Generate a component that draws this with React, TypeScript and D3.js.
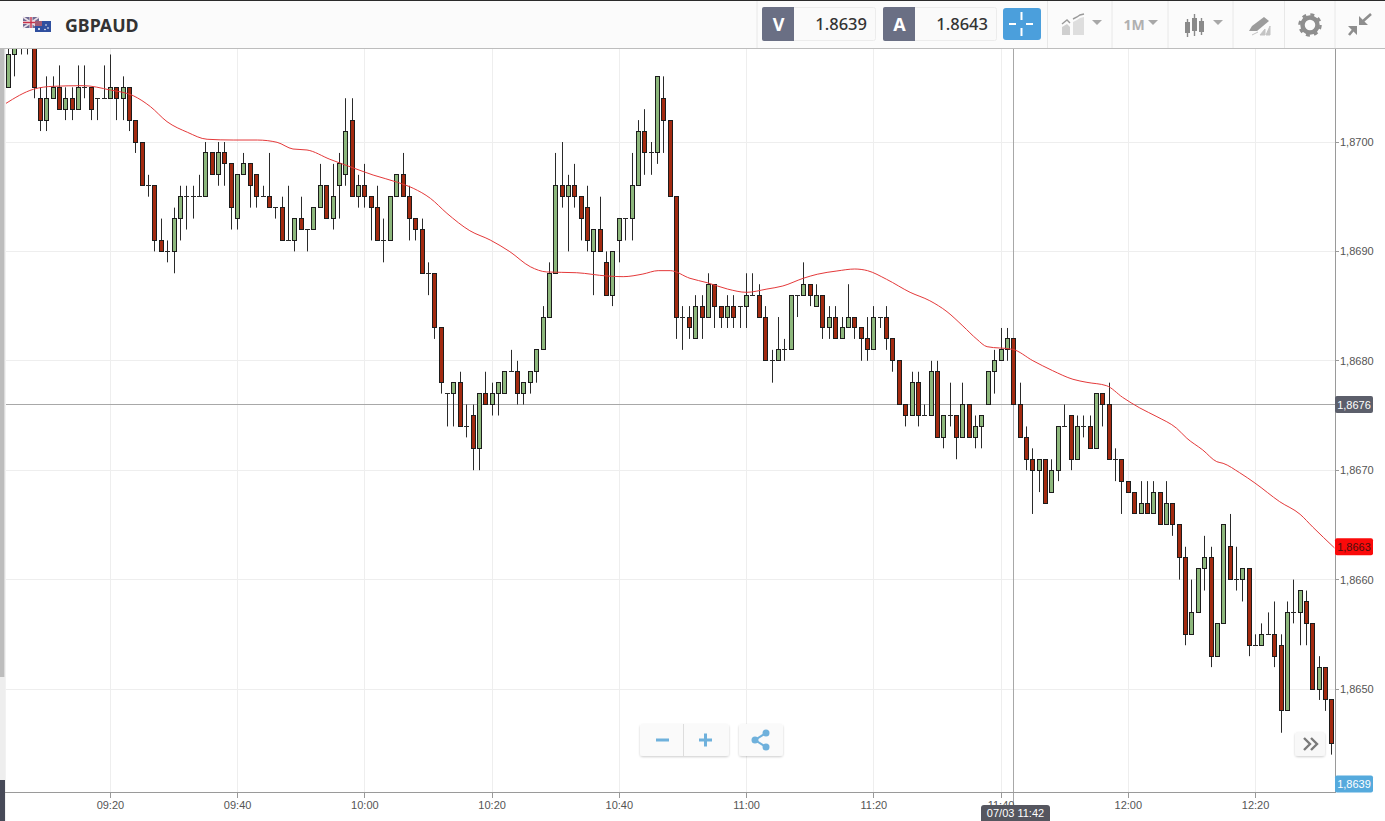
import React from "react";
import * as d3 from "d3";

// prices are expressed as the last four digits of 1.xxxx (8700 = 1.8700); one candle per minute from 09:04
const opens = [
8705,8708,8710,8710,8710,8704,8702,8704,8705,8703,
8704,8703,8705,8705,8704,8704,8704,8705,8704,8705,
8702,8700,8696,8696,8691,8690,8690,8693,8695,8695,
8695,8695,8699,8697,8699,8698,8693,8697,8698,8697,
8695,8695,8694,8694,8691,8691,8693,8692,8692,8694,
8696,8693,8696,8697,8702,8695,8696,8695,8694,8691,
8691,8695,8697,8695,8693,8692,8688,8688,8683,8677,
8677,8678,8674,8675,8672,8677,8676,8677,8677,8679,
8679,8677,8678,8679,8681,8684,8688,8696,8695,8696,
8695,8694,8690,8692,8689,8686,8691,8693,8693,8696,
8701,8699,8699,8704,8702,8695,8684,8684,8682,8685,
8684,8687,8685,8684,8685,8685,8685,8686,8686,8684,
8680,8680,8681,8681,8686,8686,8687,8685,8686,8683,
8684,8682,8683,8684,8683,8682,8681,8684,8684,8682,
8680,8676,8675,8678,8675,8675,8679,8673,8675,8675,
8673,8676,8673,8674,8676,8679,8680,8681,8682,8676,
8673,8671,8670,8671,8668,8670,8674,8675,8671,8674,
8674,8672,8677,8676,8671,8671,8669,8668,8666,8667,
8666,8668,8665,8667,8665,8662,8655,8657,8661,8662,
8653,8656,8663,8660,8660,8661,8654,8654,8655,8655,
8654,8648,8657,8657,8658,8656,8650,8652,8649];
const closes = [
8708,8709,8710,8710,8705,8702,8704,8705,8703,8704,
8703,8705,8705,8703,8704,8704,8705,8704,8705,8702,
8700,8696,8696,8691,8690,8690,8693,8695,8695,8695,
8695,8699,8697,8699,8698,8694,8697,8698,8696,8695,
8695,8694,8694,8691,8691,8693,8692,8692,8694,8696,
8693,8695,8698,8701,8695,8696,8695,8694,8691,8691,
8695,8697,8695,8693,8692,8688,8688,8683,8678,8677,
8678,8674,8674,8672,8677,8676,8677,8678,8679,8679,
8677,8678,8679,8681,8684,8688,8696,8695,8696,8695,
8693,8691,8692,8690,8686,8690,8693,8693,8696,8701,
8699,8699,8706,8702,8695,8684,8684,8683,8685,8684,
8687,8685,8684,8685,8684,8685,8686,8686,8684,8680,
8680,8681,8681,8686,8686,8687,8686,8686,8683,8684,
8682,8683,8684,8683,8682,8681,8684,8684,8682,8680,
8676,8675,8678,8675,8675,8679,8673,8675,8675,8673,
8676,8673,8674,8675,8679,8680,8681,8682,8676,8673,
8671,8670,8671,8667,8670,8674,8674,8671,8674,8674,
8672,8677,8676,8671,8671,8669,8668,8666,8667,8666,
8668,8665,8667,8665,8662,8655,8657,8661,8662,8653,
8656,8665,8660,8660,8661,8654,8654,8655,8655,8653,
8648,8657,8657,8659,8656,8650,8652,8649,8645];
const highs = [
8709,8710,8711,8711,8711,8705,8706,8706,8707,8705,
8705,8707,8707,8705,8704,8707,8708,8705,8706,8705,
8702,8700,8697,8696,8693,8691,8694,8696,8696,8696,
8697,8700,8699,8700,8700,8698,8697,8699,8698,8697,
8696,8699,8694,8695,8696,8693,8695,8692,8694,8698,
8696,8698,8699,8704,8704,8697,8698,8695,8696,8693,
8695,8697,8699,8696,8693,8693,8689,8688,8683,8677,
8678,8679,8676,8676,8677,8679,8678,8678,8679,8681,
8680,8678,8679,8681,8685,8689,8699,8700,8697,8698,
8695,8696,8692,8695,8690,8690,8693,8693,8699,8702,
8703,8700,8706,8706,8702,8695,8685,8685,8686,8686,
8688,8687,8685,8686,8686,8685,8688,8688,8687,8685,
8681,8684,8682,8686,8686,8689,8687,8687,8686,8685,
8685,8684,8687,8684,8683,8684,8685,8684,8685,8682,
8680,8676,8679,8679,8676,8680,8680,8675,8678,8675,
8678,8676,8675,8675,8679,8681,8683,8683,8682,8678,
8674,8672,8671,8671,8671,8674,8676,8675,8675,8675,
8675,8677,8677,8678,8672,8671,8669,8668,8669,8669,
8669,8668,8669,8667,8665,8663,8660,8661,8664,8663,
8656,8665,8666,8663,8661,8661,8655,8656,8657,8658,
8655,8658,8660,8659,8659,8656,8653,8652,8649];
const lows = [
8705,8706,8708,8708,8704,8701,8701,8704,8703,8702,
8702,8703,8704,8702,8702,8704,8704,8702,8702,8701,
8699,8696,8695,8690,8690,8689,8688,8691,8692,8693,
8695,8695,8697,8696,8696,8692,8692,8697,8694,8694,
8695,8694,8693,8691,8691,8690,8692,8690,8692,8694,
8693,8692,8693,8696,8695,8694,8694,8691,8691,8689,
8691,8695,8695,8691,8691,8688,8686,8682,8677,8674,
8674,8674,8673,8670,8670,8676,8675,8675,8677,8679,
8676,8676,8677,8678,8681,8684,8688,8694,8690,8694,
8691,8690,8686,8690,8686,8685,8689,8691,8691,8696,
8697,8697,8698,8699,8695,8682,8681,8682,8682,8682,
8684,8683,8683,8683,8683,8683,8683,8686,8684,8680,
8678,8680,8680,8681,8684,8686,8685,8685,8682,8682,
8682,8682,8683,8682,8680,8680,8681,8683,8681,8679,
8676,8674,8675,8674,8675,8675,8673,8672,8674,8671,
8673,8673,8672,8672,8676,8677,8680,8680,8676,8673,
8670,8666,8668,8667,8668,8669,8674,8670,8671,8673,
8672,8672,8674,8671,8669,8666,8668,8666,8666,8666,
8666,8665,8665,8664,8660,8654,8655,8657,8659,8652,
8653,8656,8660,8659,8658,8653,8654,8654,8655,8652,
8646,8648,8656,8654,8654,8650,8649,8648,8644];

// moving average: minute index and price
const maMinute = [-0.5,3.9,7,11.7,16,19.6,22.3,24.9,28.1,31.2,35.3,39.1,42.2,44.7,46.9,50.5,54.1,57.3,61.1,63.6,66.3,68.9,72.5,75.7,78.8,82,84.6,89.3,94.1,96.6,99.7,102.1,104,107.1,109.8,113,116,119.2,121.7,124.9,127.1,130.2,133,135,138,141.7,144.8,147.5,150,152.2,153.8,157.8,161,164.1,167.3,169.5,172.6,175.1,177.8,180.5,183.6,185.2,187.7,189.9,190.9,193.5,195.9,199.8,203,205,208.4];
const maPrice = [8703.5,8704.82,8705.09,8705.15,8704.75,8704.23,8703.23,8701.86,8700.89,8700.25,8700.18,8700.18,8699.97,8699.36,8699.27,8698.42,8697.65,8696.98,8696.32,8695.77,8694.85,8693.48,8691.89,8691.04,8689.97,8688.6,8688.12,8688.05,8687.75,8687.69,8687.93,8688.24,8688.24,8687.54,8687.14,8686.56,8686.26,8686.56,8686.84,8687.54,8687.91,8688.21,8688.39,8688.24,8687.45,8686.26,8685.49,8684.49,8683.18,8681.97,8681.29,8681.05,8680.01,8679.1,8678.31,8678.03,8677.72,8676.66,8675.69,8674.89,8673.83,8672.92,8671.85,8670.78,8670.63,8669.77,8668.83,8667.12,8665.97,8664.8,8662.9];

const priceTicks = [8700, 8690, 8680, 8670, 8660, 8650];
const priceLabels = ["1,8700", "1,8690", "1,8680", "1,8670", "1,8660", "1,8650"];
const timeTickMinutes = [16, 36, 56, 76, 96, 116, 136, 156, 176, 196];
const timeLabels = ["09:20", "09:40", "10:00", "10:20", "10:40", "11:00", "11:20", "11:40", "12:00", "12:20"];

const symbol = "GBPAUD";
const bidLabel = "V";
const bidValue = "1.8639";
const askLabel = "A";
const askValue = "1.8643";
const cursorPrice = 8676;
const cursorPriceLabel = "1,8676";
const cursorTimeLabel = "07/03 11:42";
const maLastPrice = 8663;
const maLastLabel = "1,8663";
const bidTagLabel = "1,8639";

const W = 1385, H = 821;
const plotRight = 1335, plotBottom = 793, plotTop = 48, plotLeft = 5;

const x = d3.scaleLinear().domain([0, 208]).range([8.6, 1331.9]);
const y = d3.scaleLinear().domain([8700, 8650]).range([142, 689]);
const maLine = d3.line<number>()
  .x((_, i) => x(maMinute[i]))
  .y((d) => y(d))
  .curve(d3.curveMonotoneX);

const UP = "#8db77c", DOWN = "#a32a10", EDGE = "#1c1c1c";
const GRID = "#eeeeee", AXIS = "#9a9a9a", TXT = "#555555";
const SANS = "'Liberation Sans', Arial, sans-serif";
const HEAD = "'Noto Sans', sans-serif";
const crisp = (v: number) => Math.floor(v) + 0.5;

function Candle({ i }: { i: number }) {
  const cx = crisp(x(i));
  const o = opens[i], c = closes[i];
  const top = crisp(y(Math.max(o, c)));
  const bot = crisp(y(Math.min(o, c)));
  return (
    <g>
      <line x1={cx} x2={cx} y1={y(highs[i])} y2={y(lows[i])} stroke="#2a2a2a" strokeWidth={1} />
      {o === c ? (
        <line x1={cx - 2.5} x2={cx + 2.5} y1={top} y2={top} stroke="#2a2a2a" strokeWidth={1} />
      ) : (
        <rect x={cx - 2} y={top} width={4} height={bot - top}
          fill={c > o ? UP : DOWN} stroke={EDGE} strokeWidth={1} />
      )}
    </g>
  );
}

function Tag({ cy, fill, color, text }: { cy: number; fill: string; color: string; text: string }) {
  return (
    <g>
      <rect x={1335} y={cy - 8.5} width={38} height={17} rx={2} fill={fill} />
      <text x={1354} y={cy + 4} textAnchor="middle" fontFamily={SANS} fontSize={11} fill={color}>{text}</text>
    </g>
  );
}

function Quote({ x0, label, value }: { x0: number; label: string; value: string }) {
  return (
    <g>
      <rect x={x0 + 0.5} y={7.5} width={113} height={33} rx={2} fill="#fafafa" stroke="#ececec" />
      <path d={`M${x0 + 2} 7h30v34h-30a2 2 0 0 1 -2 -2v-30a2 2 0 0 1 2 -2z`} fill="#6a6f84" />
      <text x={x0 + 16.5} y={31} textAnchor="middle" fontFamily={HEAD} fontWeight={700} fontSize={18} fill="#ffffff">{label}</text>
      <text x={x0 + 105} y={30} textAnchor="end" fontFamily={HEAD} fontWeight={500} fontSize={16.5} fill="#333333">{value}</text>
    </g>
  );
}

function Caret({ cx }: { cx: number }) {
  return <path d={`M${cx - 5} 20h10l-5 5z`} fill="#a8a8a8" />;
}

function Header() {
  const seps = [757, 1047.5, 1112, 1168, 1233, 1284.5, 1335];
  return (
    <g>
      <rect x={0} y={0} width={W} height={48} fill="#fbfbfb" />
      <rect x={0} y={0} width={W} height={1} fill="#2b2b2b" />
      <rect x={0} y={48} width={W} height={1} fill="#bdbdbd" />
      {seps.map((s) => <line key={s} x1={s} x2={s} y1={1} y2={48} stroke="#e8e8e8" />)}
      {/* flags */}
      <rect x={23} y={17} width={16} height={11} fill="#6f6a93" />
      <path d="M23 17l16 11M39 17l-16 11" stroke="#e9dfe6" strokeWidth={1.6} />
      <path d="M31 17v11M23 22.5h16" stroke="#efe6ea" strokeWidth={3} />
      <path d="M31 17v11M23 22.5h16" stroke="#c8324a" strokeWidth={1.4} />
      <rect x={35} y={21} width={16} height={11} fill="#2f4f9f" />
      <rect x={35} y={21} width={7} height={5} fill="#a45a72" />
      <circle cx={46} cy={25} r={0.8} fill="#fff" /><circle cx={48} cy={28} r={0.8} fill="#fff" />
      <circle cx={45} cy={29.5} r={0.8} fill="#fff" /><circle cx={39} cy={29} r={1} fill="#fff" />
      <text x={65} y={32} fontFamily={HEAD} fontWeight={700} fontSize={17.8} fill="#333333">{symbol}</text>

      <Quote x0={762} label={bidLabel} value={bidValue} />
      <Quote x0={883} label={askLabel} value={askValue} />

      <rect x={1003} y={8} width={38} height={32} rx={3} fill="#4b9fdc" />
      <path d="M1009 24h7M1026 24h7M1021.5 12v8M1021.5 28v8" stroke="#fff" strokeWidth={2} />

      {/* chart-type icon */}
      <path d="M1062 35v-8l5 -3 3 3v8z" fill="#cfcfcf" />
      <path d="M1073 35v-13l4 -2 3 -2 4 -1v18z" fill="#dedede" />
      <path d="M1062 24l5 -4 3 3M1073 19l4 -2 3 -2 4 -1" fill="none" stroke="#9a9a9a" strokeWidth={1.4} />
      <Caret cx={1097} />
      <text x={1134} y={30} textAnchor="middle" fontFamily={HEAD} fontWeight={700} fontSize={14} fill="#b0b0b0">1M</text>
      <Caret cx={1153} />
      {/* candles icon */}
      <path d="M1187.5 19v18M1194.5 14v22M1201.5 18v17" stroke="#8a8a8a" strokeWidth={1.4} />
      <rect x={1185} y={22} width={5} height={11} fill="#8a8a8a" />
      <rect x={1192} y={18} width={5} height={13} fill="#8a8a8a" />
      <rect x={1199} y={21} width={5} height={11} fill="#8a8a8a" />
      <Caret cx={1218} />
      {/* pencil icon */}
      <path d="M1249 31l3 -5 12 -9 5 4 -12 10z" fill="#9c9c9c" />
      <path d="M1252 35l6 -3 M1260 35l5 -6v6z M1266 35l4 -9v9z" fill="#c4c4c4" stroke="#c4c4c4" />
      {/* gear */}
      <circle cx={1310} cy={25} r={7.5} fill="none" stroke="#8e8e8e" strokeWidth={4.5} />
      <circle cx={1310} cy={25} r={10.5} fill="none" stroke="#8e8e8e" strokeWidth={2.5} strokeDasharray="4 4.25" />
      {/* compress arrows */}
      <path d="M1359 25v-9l9 9z M1357 26v9l-9 -9z" fill="#8e8e8e" />
      <path d="M1362 22l9 -8M1354 29l-5 6" stroke="#8e8e8e" strokeWidth={2.6} fill="none" />
    </g>
  );
}

function Buttons() {
  const ic = "#6fb1dc";
  return (
    <g>
      <defs>
        <filter id="sh" x="-20%" y="-20%" width="140%" height="150%">
          <feDropShadow dx={0} dy={1} stdDeviation={1} floodColor="#000" floodOpacity={0.2} />
        </filter>
      </defs>
      <rect x={640} y={724} width={89} height={32} rx={3} fill="#fafafa" filter="url(#sh)" />
      <line x1={683.5} x2={683.5} y1={724} y2={756} stroke="#dddddd" />
      <rect x={656} y={738.5} width={13} height={3} fill={ic} />
      <path d="M699 740h13M705.5 733.5v13" stroke={ic} strokeWidth={3} />
      <rect x={739} y={724} width={44} height={32} rx={3} fill="#fafafa" filter="url(#sh)" />
      <path d="M766 733L755 740l11 7" fill="none" stroke={ic} strokeWidth={2} />
      <circle cx={766} cy={733} r={3.5} fill={ic} />
      <circle cx={755} cy={740} r={3.5} fill={ic} />
      <circle cx={766} cy={747} r={3.5} fill={ic} />
      <rect x={1295} y={732} width={30} height={24} rx={3} fill="#f8f8f8" filter="url(#sh)" />
      <path d="M1304 738l6 6 -6 6M1311 738l6 6 -6 6" fill="none" stroke="#7a7a7a" strokeWidth={2.4} />
    </g>
  );
}

export default function App() {
  return (
    <svg width={W} height={H} viewBox={`0 0 ${W} ${H}`}
      style={{ position: "fixed", left: 0, top: 0, display: "block", background: "#ffffff" }}>
      {/* grid */}
      {priceTicks.map((t) => (
        <line key={t} x1={plotLeft} x2={plotRight} y1={crisp(y(t))} y2={crisp(y(t))} stroke={GRID} />
      ))}
      {timeTickMinutes.map((t) => (
        <line key={t} x1={crisp(x(t))} x2={crisp(x(t))} y1={plotTop} y2={plotBottom} stroke={GRID} />
      ))}

      {/* crosshair */}
      <line x1={plotLeft} x2={plotRight} y1={crisp(y(cursorPrice))} y2={crisp(y(cursorPrice))} stroke="#a8a8a8" />
      <line x1={1013.5} x2={1013.5} y1={plotTop} y2={806} stroke="#a8a8a8" />

      {/* candles */}
      {opens.map((_, i) => <Candle key={i} i={i} />)}

      {/* moving average */}
      <path d={maLine(maPrice) ?? ""} fill="none" stroke="#e4393a" strokeWidth={1} />

      {/* left rail */}
      <rect x={0} y={48} width={4} height={629} fill="#bdbdbd" />
      <rect x={0} y={677} width={5} height={103} fill="#eeeeee" />
      <rect x={0} y={780} width={5} height={41} fill="#474a58" />
      <rect x={4} y={48} width={1} height={629} fill="#dcdcdc" />
      <rect x={5} y={48} width={1} height={773} fill="#f2f2f2" />

      {/* axes */}
      <line x1={plotRight + 0.5} x2={plotRight + 0.5} y1={plotTop} y2={plotBottom} stroke={AXIS} />
      <line x1={plotLeft} x2={plotRight + 1} y1={plotBottom - 0.5} y2={plotBottom - 0.5} stroke={AXIS} />
      {priceTicks.map((t, i) => (
        <g key={t}>
          <line x1={plotRight} x2={plotRight + 4} y1={crisp(y(t))} y2={crisp(y(t))} stroke={AXIS} />
          <text x={1340} y={y(t) + 4} fontFamily={SANS} fontSize={11} fill={TXT}>{priceLabels[i]}</text>
        </g>
      ))}
      {timeTickMinutes.map((t, i) => (
        <g key={t}>
          <line x1={crisp(x(t))} x2={crisp(x(t))} y1={plotBottom} y2={plotBottom + 5} stroke={AXIS} />
          <text x={x(t)} y={809} textAnchor="middle" fontFamily={SANS} fontSize={11} fill={TXT}>{timeLabels[i]}</text>
        </g>
      ))}

      <Tag cy={y(cursorPrice)} fill="#5c5f6b" color="#ffffff" text={cursorPriceLabel} />
      <Tag cy={y(maLastPrice)} fill="#fa0a0a" color="#4a1010" text={maLastLabel} />
      <Tag cy={784} fill="#55aadd" color="#ffffff" text={bidTagLabel} />

      <rect x={981} y={805} width={69} height={18} rx={3} fill="#55565f" />
      <text x={1015.5} y={817} textAnchor="middle" fontFamily={SANS} fontSize={11} fill="#ffffff">{cursorTimeLabel}</text>

      <Buttons />
      <Header />
    </svg>
  );
}
